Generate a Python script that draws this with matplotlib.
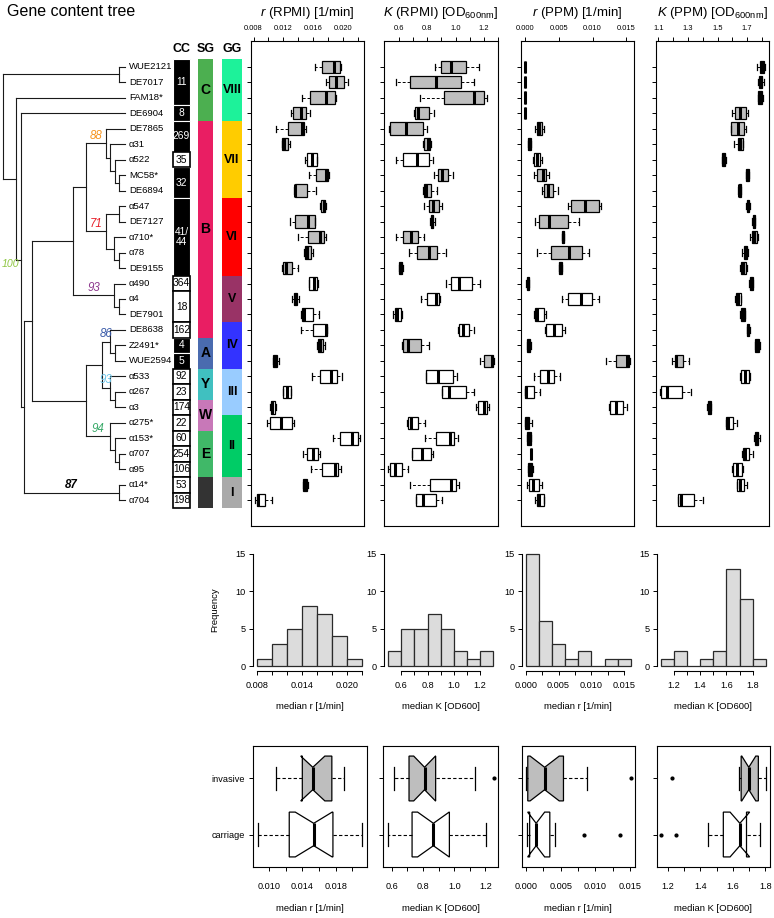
import numpy as np
import matplotlib
matplotlib.use('Agg')
import matplotlib.pyplot as plt
from matplotlib.patches import Rectangle

plt.rcParams['font.family'] = ['Liberation Sans', 'DejaVu Sans']
plt.rcParams['mathtext.fontset'] = 'custom'
plt.rcParams['mathtext.rm'] = 'Liberation Sans'
plt.rcParams['mathtext.it'] = 'Liberation Sans:italic'
plt.rcParams['mathtext.bf'] = 'Liberation Sans:bold'

# ---------------- data ----------------
strains = ['WUE2121', 'DE7017', 'FAM18*', 'DE6904', 'DE7865', 'α31', 'α522', 'MC58*', 'DE6894',
           'α547', 'DE7127', 'α710*', 'α78', 'DE9155', 'α490', 'α4', 'DE7901', 'DE8638',
           'Z2491*', 'WUE2594', 'α533', 'α267', 'α3', 'α275*', 'α153*', 'α707', 'α95',
           'α14*', 'α704']

cc_labels = ['11', '8', '269', '35', '32', '41/\n44', '364', '18', '162', '4', '5', '92', '23',
             '174', '22', '60', '254', '106', '53', '198']
cc_sizes = [3, 1, 2, 1, 2, 5, 1, 2, 1, 1, 1, 1, 1, 1, 1, 1, 1, 1, 1, 1]
cc_hyper = [1, 1, 1, 0, 1, 1, 0, 0, 0, 1, 1, 0, 0, 0, 0, 0, 0, 0, 0, 0]

sg_labels = ['C', 'B', 'A', 'Y', 'W', 'E', '']
sg_sizes = [4, 14, 2, 2, 2, 3, 2]
sg_colors = ['#4CAF50', '#E91E63', '#4A6BAF', '#40C0C0', '#C878B8', '#40B868', '#333333']

gg_labels = ['VIII', 'VII', 'VI', 'V', 'IV', 'III', 'II', 'I']
gg_sizes = [4, 5, 5, 3, 3, 3, 4, 2]
gg_colors = ['#1DF29A', '#FFCC00', '#FF0000', '#993366', '#3333FF', '#99CCFF', '#00CC66', '#AAAAAA']

# r (RPMI) [1/min]
r_rpmi_lo = [0.01619, 0.01775, 0.01453, 0.01306, 0.01104, 0.01176, 0.01489, 0.01538, 0.01341,
             0.01695, 0.01292, 0.01400, 0.01476, 0.01180, 0.01538, 0.01315, 0.01440, 0.01431,
             0.01655, 0.01060, 0.01578, 0.01189, 0.01024, 0.00975, 0.01865, 0.01458, 0.01565,
             0.01467, 0.00822]
r_rpmi_q1 = [0.01717, 0.01811, 0.01556, 0.01323, 0.01261, 0.01185, 0.01511, 0.01632, 0.01350,
             0.01708, 0.01359, 0.01529, 0.01485, 0.01194, 0.01547, 0.01337, 0.01449, 0.01596,
             0.01663, 0.01064, 0.01690, 0.01198, 0.01028, 0.01019, 0.01963, 0.01520, 0.01722,
             0.01467, 0.00845]
r_rpmi_med = [0.01878, 0.01900, 0.01766, 0.01440, 0.01444, 0.01207, 0.01578, 0.01775, 0.01359,
              0.01740, 0.01525, 0.01695, 0.01520, 0.01238, 0.01610, 0.01359, 0.01476, 0.01766,
              0.01695, 0.01082, 0.01838, 0.01243, 0.01051, 0.01171, 0.02120, 0.01596, 0.01896,
              0.01494, 0.00863]
r_rpmi_q3 = [0.01959, 0.02012, 0.01887, 0.01507, 0.01471, 0.01265, 0.01646, 0.01802, 0.01511,
             0.01757, 0.01623, 0.01740, 0.01570, 0.01315, 0.01655, 0.01386, 0.01601, 0.01780,
             0.01730, 0.01109, 0.01923, 0.01297, 0.01086, 0.01315, 0.02200, 0.01659, 0.01936,
             0.01520, 0.00957]
r_rpmi_hi = [0.01977, 0.02070, 0.01900, 0.01552, 0.01507, 0.01283, 0.01655, 0.01811, 0.01637,
             0.01766, 0.01623, 0.01766, 0.01592, 0.01395, 0.01664, 0.01408, 0.01681, 0.01780,
             0.01762, 0.01136, 0.01986, 0.01301, 0.01104, 0.01341, 0.02223, 0.01686, 0.01968,
             0.01525, 0.01051]

# K (RPMI) [OD600nm]
k_rpmi_lo = [0.853, 0.576, 0.747, 0.704, 0.525, 0.769, 0.578, 0.848, 0.769, 0.776, 0.822, 0.578,
             0.667, 0.600, 0.930, 0.757, 0.554, 1.014, 0.622, 1.171, 0.790, 0.904, 1.142, 0.658,
             0.786, 0.689, 0.523, 0.677, 0.723]
k_rpmi_q1 = [0.899, 0.680, 0.920, 0.713, 0.537, 0.773, 0.629, 0.875, 0.773, 0.814, 0.824, 0.629,
             0.730, 0.602, 0.964, 0.795, 0.571, 1.022, 0.627, 1.202, 0.793, 0.904, 1.161, 0.663,
             0.863, 0.689, 0.535, 0.819, 0.723]
k_rpmi_med = [0.969, 0.858, 1.130, 0.737, 0.646, 0.805, 0.730, 0.904, 0.793, 0.839, 0.834, 0.684,
              0.810, 0.612, 1.027, 0.858, 0.588, 1.055, 0.660, 1.255, 0.875, 0.954, 1.202, 0.682,
              0.957, 0.759, 0.573, 0.969, 0.769]
k_rpmi_q3 = [1.075, 1.036, 1.198, 0.814, 0.769, 0.822, 0.810, 0.949, 0.829, 0.882, 0.843, 0.733,
             0.867, 0.622, 1.113, 0.882, 0.610, 1.096, 0.752, 1.265, 0.978, 1.070, 1.219, 0.737,
             0.990, 0.829, 0.619, 1.002, 0.863]
k_rpmi_hi = [1.164, 1.133, 1.224, 0.846, 0.798, 0.827, 0.843, 0.981, 0.867, 0.904, 0.851, 0.773,
             0.930, 0.627, 1.176, 0.887, 0.617, 1.130, 0.810, 1.270, 1.007, 1.128, 1.239, 0.786,
             1.014, 0.839, 0.660, 1.024, 0.901]

# r (PPM) [1/min]
r_ppm_lo = [0.0, 0.0, 0.0, 0.0, 0.00152, 0.00044, 0.00113, 0.00138, 0.00246, 0.00629, 0.00147,
            0.00541, 0.00182, 0.00497, 0.00015, 0.00551, 0.00133, 0.00300, 0.00030, 0.01195,
            0.00138, 0.0, 0.01249, 0.0, 0.00025, 0.00086, 0.00039, 0.00034, 0.00152]
r_ppm_q1 = [0.0, 0.0, 0.0, 0.0, 0.00177, 0.00049, 0.00128, 0.00182, 0.00285, 0.00678, 0.00211,
            0.00550, 0.00379, 0.00501, 0.00020, 0.00639, 0.00143, 0.00310, 0.00034, 0.01352,
            0.00226, 0.0, 0.01259, 0.0, 0.00030, 0.00087, 0.00049, 0.00054, 0.00177]
r_ppm_med = [0.0, 0.0, 0.0, 0.0, 0.00211, 0.00064, 0.00172, 0.00270, 0.00344, 0.00885, 0.00354,
             0.00560, 0.00644, 0.00521, 0.00039, 0.00836, 0.00182, 0.00423, 0.00054, 0.01509,
             0.00344, 0.00010, 0.01347, 0.00020, 0.00054, 0.00088, 0.00074, 0.00123, 0.00211]
r_ppm_q3 = [0.00002, 0.00002, 0.00002, 0.00002, 0.00246, 0.00079, 0.00226, 0.00315, 0.00418,
            0.01096, 0.00639, 0.00570, 0.00850, 0.00540, 0.00059, 0.00998, 0.00275, 0.00541,
            0.00074, 0.01544, 0.00428, 0.00133, 0.01450, 0.00059, 0.00084, 0.00089, 0.00103,
            0.00202, 0.00275]
r_ppm_hi = [0.00003, 0.00003, 0.00003, 0.00003, 0.00275, 0.00093, 0.00246, 0.00354, 0.00487,
            0.01121, 0.00801, 0.00580, 0.00949, 0.00546, 0.00064, 0.01096, 0.00310, 0.00590,
            0.00088, 0.01554, 0.00516, 0.00226, 0.01514, 0.00103, 0.00093, 0.00090, 0.00123,
            0.00251, 0.00285]

# K (PPM) [OD600nm]
k_ppm_lo = [1.763, 1.776, 1.772, 1.599, 1.588, 1.610, 1.530, 1.689, 1.640, 1.693, 1.735, 1.722,
            1.666, 1.653, 1.713, 1.617, 1.651, 1.697, 1.751, 1.194, 1.651, 1.113, 1.432, 1.554,
            1.745, 1.664, 1.597, 1.628, 1.232]
k_ppm_q1 = [1.789, 1.781, 1.776, 1.617, 1.592, 1.635, 1.533, 1.692, 1.642, 1.697, 1.740, 1.733,
            1.678, 1.660, 1.718, 1.622, 1.655, 1.700, 1.756, 1.214, 1.660, 1.118, 1.434, 1.559,
            1.751, 1.669, 1.604, 1.633, 1.234]
k_ppm_med = [1.803, 1.792, 1.787, 1.651, 1.640, 1.651, 1.541, 1.698, 1.648, 1.704, 1.745, 1.749,
             1.689, 1.671, 1.727, 1.635, 1.669, 1.707, 1.765, 1.223, 1.684, 1.156, 1.445, 1.572,
             1.765, 1.684, 1.628, 1.651, 1.252]
k_ppm_q3 = [1.814, 1.803, 1.801, 1.693, 1.678, 1.671, 1.549, 1.710, 1.655, 1.713, 1.752, 1.763,
            1.700, 1.693, 1.738, 1.655, 1.682, 1.713, 1.778, 1.268, 1.711, 1.263, 1.456, 1.606,
            1.776, 1.711, 1.664, 1.678, 1.342]
k_ppm_hi = [1.819, 1.816, 1.805, 1.707, 1.695, 1.675, 1.555, 1.713, 1.660, 1.718, 1.756, 1.774,
            1.707, 1.700, 1.742, 1.660, 1.687, 1.718, 1.785, 1.308, 1.722, 1.319, 1.458, 1.633,
            1.787, 1.740, 1.671, 1.700, 1.400]

r_rpmi_breaks = np.round(np.arange(0.008, 0.0221, 0.002), 4)
k_rpmi_breaks = np.round(np.arange(0.5, 1.31, 0.1), 2)
r_ppm_breaks = np.round(np.arange(0.0, 0.0161, 0.002), 4)
k_ppm_breaks = np.round(np.arange(1.1, 1.91, 0.1), 2)


def N(h, *kids, bs=None, col=None, at='branch'):
    return {'h': h, 'c': list(kids), 'bs': bs, 'col': col, 'at': at}


tree = N(0.0,
         N(0.951, 'WUE2121', 'DE7017'),
         N(0.102, 'FAM18*',
           N(0.143, 'DE6904',
             N(0.170,
               N(0.238,
                 N(0.575,
                   N(0.677,
                     N(0.844, 'DE7865',
                       N(0.877, 'α31', N(0.918, 'α522', N(0.951, 'MC58*', 'DE6894'))),
                       bs='88', col='#F7941D'),
                     N(0.844, N(0.951, 'α547', 'DE7127'),
                       N(0.912, 'α710*', N(0.951, 'α78', 'DE9155')),
                       bs='71', col='#E8202A')),
                   N(0.912, 'α490', N(0.951, 'α4', 'DE7901'), bs='93', col='#8E3A8E')),
                 N(0.677,
                   N(0.809,
                     N(0.877, 'DE8638', N(0.918, 'Z2491*', 'WUE2594'), bs='86', col='#3A5BA9'),
                     N(0.877, 'α533', N(0.918, 'α267', 'α3'), bs='93', col='#6CC5E9')),
                   N(0.877, 'α275*', N(0.918, 'α153*', N(0.951, 'α707', 'α95')),
                     bs='94', col='#3AAA6A'))),
               N(0.951, 'α14*', 'α704', bs='87', col='black')),
             bs='100', col='#8DC63F', at='node')))

# ---------------- layout helpers ----------------
W, H = 774, 918
fig = plt.figure(figsize=(W / 100, H / 100), dpi=100)


def rect(l, t, r, b):
    return [l / W, 1 - b / H, (r - l) / W, (b - t) / H]


n = len(strains)
pos = np.arange(1, n + 1)
ylim_rows = (n + 0.5 + 0.04 * n, 0.5 - 0.04 * n)

# invasive flag per strain from CC group colour
invasive = []
for s, h in zip(cc_sizes, cc_hyper):
    invasive += [h] * s
invasive = np.array(invasive, bool)

GRAY = '#BEBEBE'

# ---------------- tree & columns ----------------
tax = fig.add_axes(rect(0, 41, 250, 526))
tax.set_xlim(0, 250)
tax.set_ylim(*ylim_rows)
tax.axis('off')


def tx(h):
    return 3.3 + h * 121.7


line_kw = dict(color='#1a1a1a', lw=0.8, solid_capstyle='projecting', clip_on=False)


def draw(node, parent_x=None):
    if isinstance(node, str):
        return tx(1.0), strains.index(node) + 1
    x = tx(node['h'])
    kids = [draw(k, x) for k in node['c']]
    y = (kids[0][1] + kids[-1][1]) / 2
    tax.plot([x, x], [kids[0][1], kids[-1][1]], **line_kw)
    for kx, ky in kids:
        tax.plot([x, kx], [ky, ky], **line_kw)
    if node['bs']:
        if node['at'] == 'node':
            tax.text(x - 1.0, y + 0.25, node['bs'], ha='right', va='center', fontsize=7.6,
                     style='italic', color=node['col'])
        else:
            tax.text((parent_x + x) / 2, y - 0.1, node['bs'], ha='center', va='bottom',
                     fontsize=8.3, style='italic', color=node['col'],
                     fontweight='bold' if node['col'] == 'black' else 'normal')
    return x, y


draw(tree)

for i, s in enumerate(strains):
    tax.text(129, i + 1, s, ha='left', va='center', fontsize=6.8)

# CC column
start = 0
for lab, sz, hy in zip(cc_labels, cc_sizes, cc_hyper):
    y0 = start + 0.5
    if hy:
        tax.add_patch(Rectangle((173, y0), 17, sz, facecolor='black', edgecolor='white', lw=0.8, zorder=2))
        tc = 'white'
    else:
        tax.add_patch(Rectangle((173, y0), 17, sz, facecolor='white', edgecolor='black', lw=1.2, zorder=3))
        tc = 'black'
    tax.text(181.5, y0 + sz / 2, lab, ha='center', va='center', fontsize=7.4, color=tc,
             linespacing=1.0, zorder=4)
    start += sz

start = 0
for lab, sz, c in zip(sg_labels, sg_sizes, sg_colors):
    tax.add_patch(Rectangle((198, start + 0.5), 15, sz, facecolor=c, edgecolor='none'))
    tax.text(205.5, start + 0.5 + sz / 2, lab, ha='center', va='center', fontsize=10,
             fontweight='bold', color='black')
    start += sz

start = 0
for lab, sz, c in zip(gg_labels, gg_sizes, gg_colors):
    tax.add_patch(Rectangle((222, start + 0.5), 20, sz, facecolor=c, edgecolor='none'))
    tax.text(232, start + 0.5 + sz / 2, lab, ha='center', va='center', fontsize=9,
             fontweight='bold', color='black')
    start += sz

for lab, xc in zip(['CC', 'SG', 'GG'], [181.5, 205.5, 232]):
    tax.text(xc, -0.15, lab, ha='center', va='center', fontsize=9, fontweight='bold')

fig.text(7 / W, 1 - 11 / H, 'Gene content tree', ha='left', va='center', fontsize=11.5)

# ---------------- top box panels ----------------
panels = [
    (rect(251, 41, 364, 526), r_rpmi_lo, r_rpmi_q1, r_rpmi_med, r_rpmi_q3, r_rpmi_hi,
     r'$\mathit{r}$ (RPMI) [1/min]', np.round(np.arange(0.008, 0.0221, 0.002), 4),
     [0.008, 0.012, 0.016, 0.020], '{:.3f}'),
    (rect(384, 41, 498, 526), k_rpmi_lo, k_rpmi_q1, k_rpmi_med, k_rpmi_q3, k_rpmi_hi,
     r'$\mathit{K}$ (RPMI) [OD$_{\mathrm{600nm}}$]', np.round(np.arange(0.6, 1.31, 0.1), 2),
     [0.6, 0.8, 1.0, 1.2], '{:.1f}'),
    (rect(521, 41, 634, 526), r_ppm_lo, r_ppm_q1, r_ppm_med, r_ppm_q3, r_ppm_hi,
     r'$\mathit{r}$ (PPM) [1/min]', np.round(np.arange(0.0, 0.0151, 0.005), 4),
     [0.0, 0.005, 0.010, 0.015], '{:.3f}'),
    (rect(656, 41, 769, 526), k_ppm_lo, k_ppm_q1, k_ppm_med, k_ppm_q3, k_ppm_hi,
     r'$\mathit{K}$ (PPM) [OD$_{\mathrm{600nm}}$]', np.round(np.arange(1.1, 1.81, 0.1), 2),
     [1.1, 1.3, 1.5, 1.7], '{:.1f}'),
]

for (rc, lo, q1, med, q3, hi, title, ticks, labeled, fmt) in panels:
    ax = fig.add_axes(rc)
    stats = [dict(whislo=a, q1=b, med=c, q3=d, whishi=e, fliers=[])
             for a, b, c, d, e in zip(lo, q1, med, q3, hi)]
    bp = ax.bxp(stats, positions=pos, widths=0.8, orientation='horizontal', patch_artist=True,
                showfliers=False, capwidths=0.4,
                boxprops=dict(edgecolor='black', linewidth=0.9),
                medianprops=dict(color='black', linewidth=2.2, solid_capstyle='butt'),
                whiskerprops=dict(color='black', linewidth=0.7, linestyle=(0, (3, 2))),
                capprops=dict(color='black', linewidth=0.9))
    for b, inv in zip(bp['boxes'], invasive):
        b.set_facecolor(GRAY if inv else 'white')
    lo_all, hi_all = min(lo), max(hi)
    ext = 0.04 * (hi_all - lo_all)
    ax.set_xlim(lo_all - ext, hi_all + ext)
    ax.set_ylim(*ylim_rows)
    ax.set_yticks(pos)
    ax.set_yticklabels([])
    ax.xaxis.tick_top()
    ax.set_xticks(ticks)
    ax.set_xticklabels([fmt.format(t) if any(abs(t - l) < 1e-9 for l in labeled) else ''
                        for t in ticks])
    ax.tick_params(axis='both', direction='out', length=3, width=0.7, labelsize=5.4, pad=3.5)
    for sp in ax.spines.values():
        sp.set_linewidth(0.8)
    ax.text(0.5, 1 + 28 / 485, title, ha='center', va='center', transform=ax.transAxes,
            fontsize=9.5)

# ---------------- histograms ----------------
hists = [
    (rect(253, 549, 366, 671), r_rpmi_med, r_rpmi_breaks, np.round(np.arange(0.008, 0.0221, 0.002), 4),
     [0.008, 0.014, 0.020], '{:.3f}', 'median r [1/min]'),
    (rect(384, 549, 497.5, 671), k_rpmi_med, k_rpmi_breaks, np.round(np.arange(0.6, 1.21, 0.1), 2),
     [0.6, 0.8, 1.0, 1.2], '{:.1f}', 'median K [OD600]'),
    (rect(521.5, 549, 635, 671), r_ppm_med, r_ppm_breaks, np.round(np.arange(0.0, 0.0151, 0.0025), 4),
     [0.0, 0.005, 0.010, 0.015], '{:.3f}', 'median r [1/min]'),
    (rect(656.5, 549, 770, 671), k_ppm_med, k_ppm_breaks, np.round(np.arange(1.2, 1.81, 0.1), 2),
     [1.2, 1.4, 1.6, 1.8], '{:.1f}', 'median K [OD600]'),
]
for k, (rc, vals, breaks, ticks, labeled, fmt, xl) in enumerate(hists):
    ax = fig.add_axes(rc)
    ax.hist(vals, bins=breaks, facecolor='#DCDCDC', edgecolor='#2a2a2a', linewidth=0.9)
    ext = 0.04 * (breaks[-1] - breaks[0])
    ax.set_xlim(breaks[0] - ext, breaks[-1] + ext)
    ax.set_ylim(-0.6, 15.6)
    ax.set_yticks([0, 5, 10, 15])
    ax.set_xticks(ticks)
    ax.set_xticklabels([fmt.format(t) if any(abs(t - l) < 1e-9 for l in labeled) else ''
                        for t in ticks])
    ax.spines['top'].set_visible(False)
    ax.spines['right'].set_visible(False)
    ax.spines['left'].set_bounds(0, 15)
    ax.spines['bottom'].set_bounds(ticks[0], ticks[-1])
    for sp in ax.spines.values():
        sp.set_linewidth(0.8)
    ax.tick_params(axis='both', direction='out', length=3, width=0.7, labelsize=6.6)
    ax.tick_params(axis='x', pad=4.5)
    ax.tick_params(axis='y', pad=2.0)
    ax.set_xlabel(xl, fontsize=6.8, labelpad=8)
    if k == 0:
        ax.set_ylabel('Frequency', fontsize=6.8, labelpad=12)

# ---------------- invasive vs carriage notched boxplots ----------------


def fivenum(x):
    x = np.sort(np.asarray(x, float))
    m = len(x)
    n4 = np.floor((m + 3) / 2) / 2
    d = np.array([1, n4, (m + 1) / 2, m + 1 - n4, m])
    return 0.5 * (x[np.floor(d).astype(int) - 1] + x[np.ceil(d).astype(int) - 1])


def rstats(x):
    x = np.asarray(x, float)
    f = fivenum(x)
    iqr = f[3] - f[1]
    lo_f, hi_f = f[1] - 1.5 * iqr, f[3] + 1.5 * iqr
    inside = x[(x >= lo_f) & (x <= hi_f)]
    half = 1.58 * iqr / np.sqrt(len(x))
    return dict(whislo=inside.min(), q1=f[1], med=f[2], q3=f[3], whishi=inside.max(),
                fliers=x[(x < lo_f) | (x > hi_f)], cilo=f[2] - half, cihi=f[2] + half)


bottoms = [
    (rect(253.3, 746, 366.7, 867), r_rpmi_med, np.round(np.arange(0.010, 0.0201, 0.002), 4),
     [0.010, 0.014, 0.018], '{:.3f}', 'median r [1/min]'),
    (rect(383.3, 746, 498.3, 867), k_rpmi_med, np.round(np.arange(0.6, 1.21, 0.1), 2),
     [0.6, 0.8, 1.0, 1.2], '{:.1f}', 'median K [OD600]'),
    (rect(521.7, 746, 635, 867), r_ppm_med, np.round(np.arange(0.0, 0.0151, 0.0025), 4),
     [0.0, 0.005, 0.010, 0.015], '{:.3f}', 'median r [1/min]'),
    (rect(656.7, 746, 770, 867), k_ppm_med, np.round(np.arange(1.2, 1.81, 0.1), 2),
     [1.2, 1.4, 1.6, 1.8], '{:.1f}', 'median K [OD600]'),
]
for k, (rc, vals, ticks, labeled, fmt, xl) in enumerate(bottoms):
    ax = fig.add_axes(rc)
    vals = np.asarray(vals)
    st = [rstats(vals[~invasive]), rstats(vals[invasive])]
    bp = ax.bxp(st, positions=[1, 2], widths=0.8, orientation='horizontal', patch_artist=True,
                shownotches=True, capwidths=0.4,
                boxprops=dict(edgecolor='black', linewidth=0.9),
                medianprops=dict(color='black', linewidth=2.2, solid_capstyle='butt'),
                whiskerprops=dict(color='black', linewidth=0.8, linestyle=(0, (3, 2))),
                capprops=dict(color='black', linewidth=0.9),
                flierprops=dict(marker='o', markersize=2, markerfacecolor='black',
                                markeredgecolor='black'))
    bp['boxes'][0].set_facecolor('white')
    bp['boxes'][1].set_facecolor(GRAY)
    allv = np.concatenate([[s['whislo'], s['whishi']] + list(s['fliers']) for s in st])
    ext = 0.04 * (allv.max() - allv.min())
    ax.set_xlim(allv.min() - ext, allv.max() + ext)
    ax.set_ylim(0.42, 2.58)
    ax.set_yticks([1, 2])
    if k == 0:
        ax.set_yticklabels(['carriage', 'invasive'])
    else:
        ax.set_yticklabels([])
    ax.set_xticks(ticks)
    ax.set_xticklabels([fmt.format(t) if any(abs(t - l) < 1e-9 for l in labeled) else ''
                        for t in ticks])
    for sp in ax.spines.values():
        sp.set_linewidth(0.8)
    ax.tick_params(axis='both', direction='out', length=3, width=0.7, labelsize=6.6)
    ax.tick_params(axis='x', pad=8)
    ax.tick_params(axis='y', pad=3)
    ax.set_xlabel(xl, fontsize=6.8, labelpad=9)

fig.savefig('out.png', dpi=100)
